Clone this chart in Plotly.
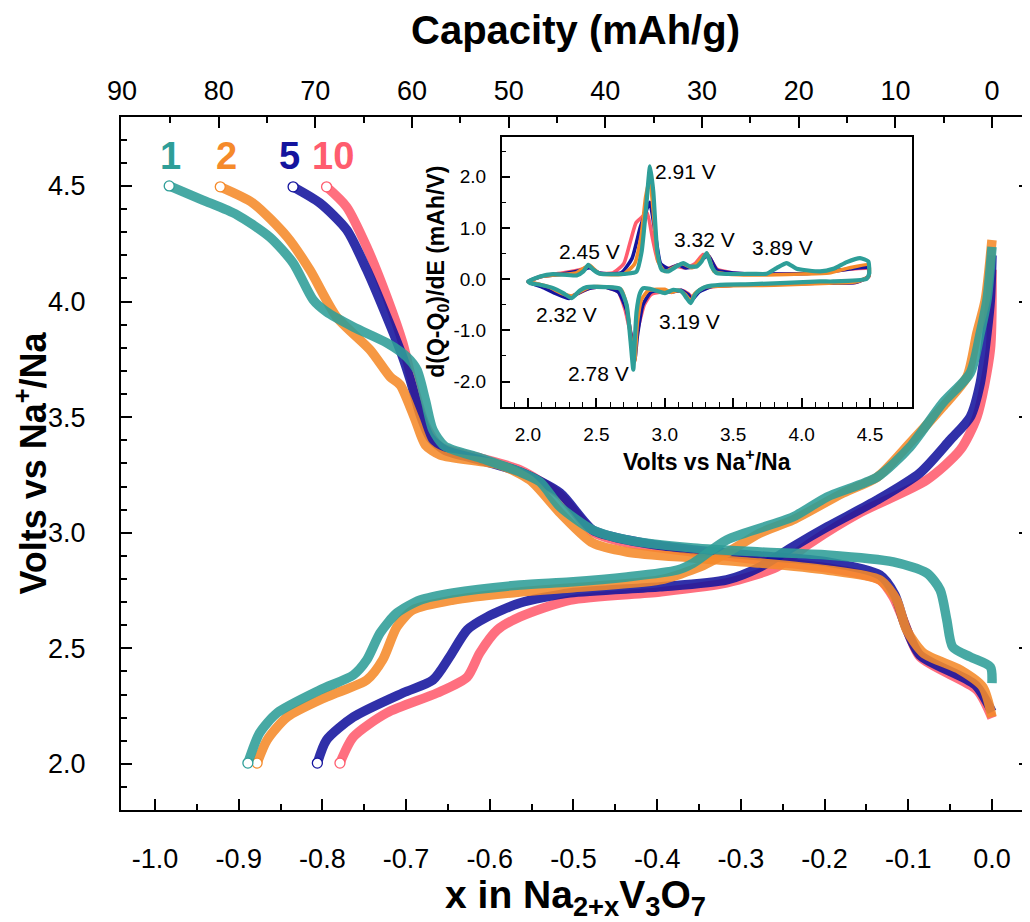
import plotly.graph_objects as go

# ---------------- main panel data: x in Na(2+x)V3O7 vs Volts ----------------
# branch A: from the high-voltage end (upper left) down to x = 0
# branch B: from 2.0 V (lower left) up to x = 0
c1_xa = [-0.983, -0.943, -0.902, -0.863, -0.835, -0.811, -0.795, -0.763, -0.723, -0.699, -0.687, -0.677, -0.668, -0.654, -0.612, -0.564, -0.540, -0.516, -0.477, -0.436, -0.357, -0.277, -0.197, -0.118, -0.078, -0.062, -0.054, -0.047, -0.026, -0.002, 0.0]
c1_va = [4.500, 4.439, 4.375, 4.279, 4.167, 4.007, 3.955, 3.890, 3.821, 3.760, 3.704, 3.574, 3.445, 3.375, 3.324, 3.263, 3.220, 3.112, 3.012, 2.969, 2.934, 2.917, 2.904, 2.874, 2.826, 2.753, 2.623, 2.506, 2.463, 2.420, 2.350]
c1_xb = [-0.889, -0.875, -0.854, -0.803, -0.763, -0.747, -0.731, -0.711, -0.683, -0.644, -0.564, -0.504, -0.436, -0.376, -0.357, -0.317, -0.238, -0.197, -0.137, -0.098, -0.059, -0.026, -0.014, -0.006, 0.0]
c1_vb = [2.004, 2.134, 2.221, 2.320, 2.385, 2.450, 2.567, 2.653, 2.709, 2.740, 2.774, 2.787, 2.809, 2.839, 2.869, 2.969, 3.068, 3.155, 3.241, 3.371, 3.561, 3.691, 3.864, 4.007, 4.236]

c2_xa = [-0.922, -0.883, -0.842, -0.815, -0.783, -0.743, -0.719, -0.707, -0.689, -0.677, -0.659, -0.588, -0.552, -0.516, -0.477, -0.436, -0.357, -0.277, -0.197, -0.134, -0.114, -0.102, -0.082, -0.038, -0.011, 0.0]
c2_va = [4.496, 4.426, 4.279, 4.137, 3.933, 3.791, 3.674, 3.639, 3.488, 3.380, 3.336, 3.293, 3.228, 3.086, 2.956, 2.917, 2.891, 2.869, 2.839, 2.796, 2.709, 2.580, 2.480, 2.407, 2.333, 2.203]
c2_xb = [-0.878, -0.866, -0.842, -0.795, -0.747, -0.728, -0.711, -0.692, -0.644, -0.564, -0.504, -0.397, -0.349, -0.317, -0.277, -0.238, -0.178, -0.137, -0.098, -0.059, -0.030, -0.018, -0.008, 0.0]
c2_vb = [2.004, 2.104, 2.203, 2.290, 2.363, 2.450, 2.593, 2.666, 2.709, 2.744, 2.761, 2.796, 2.852, 2.913, 2.999, 3.055, 3.172, 3.241, 3.388, 3.544, 3.674, 3.864, 4.007, 4.266]

c5_xa = [-0.835, -0.803, -0.771, -0.747, -0.723, -0.704, -0.695, -0.683, -0.671, -0.654, -0.612, -0.564, -0.516, -0.477, -0.436, -0.357, -0.277, -0.197, -0.134, -0.116, -0.104, -0.086, -0.020, 0.0]
c5_va = [4.496, 4.426, 4.310, 4.137, 3.933, 3.760, 3.661, 3.510, 3.410, 3.358, 3.315, 3.263, 3.172, 3.012, 2.969, 2.926, 2.900, 2.874, 2.817, 2.731, 2.601, 2.471, 2.342, 2.225]
c5_xb = [-0.806, -0.795, -0.763, -0.704, -0.668, -0.648, -0.627, -0.603, -0.564, -0.504, -0.397, -0.317, -0.277, -0.238, -0.197, -0.137, -0.086, -0.050, -0.026, -0.014, -0.006, -0.002, 0.0]
c5_vb = [2.004, 2.104, 2.203, 2.307, 2.363, 2.463, 2.580, 2.636, 2.696, 2.740, 2.766, 2.796, 2.852, 2.939, 3.025, 3.142, 3.259, 3.401, 3.501, 3.648, 3.864, 4.007, 4.200]

c10_xa = [-0.795, -0.771, -0.747, -0.723, -0.704, -0.693, -0.677, -0.659, -0.612, -0.564, -0.516, -0.477, -0.436, -0.357, -0.277, -0.197, -0.134, -0.118, -0.106, -0.086, -0.018, 0.0]
c10_va = [4.496, 4.409, 4.236, 4.020, 3.821, 3.661, 3.466, 3.371, 3.324, 3.272, 3.163, 3.003, 2.956, 2.917, 2.882, 2.848, 2.796, 2.722, 2.623, 2.463, 2.320, 2.199]
c10_xb = [-0.779, -0.763, -0.723, -0.663, -0.627, -0.612, -0.591, -0.564, -0.504, -0.397, -0.317, -0.257, -0.217, -0.158, -0.078, -0.038, -0.018, -0.002, 0.0]
c10_vb = [2.004, 2.117, 2.221, 2.307, 2.376, 2.480, 2.580, 2.636, 2.709, 2.744, 2.783, 2.852, 2.956, 3.086, 3.228, 3.358, 3.501, 3.791, 4.137]

# ---------------- inset data: d(Q-Q0)/dE vs Volts ----------------
i1_vu = [2.002, 2.088, 2.185, 2.356, 2.405, 2.441, 2.478, 2.526, 2.721, 2.794, 2.831, 2.863, 2.892, 2.916, 2.945, 2.977, 3.025, 3.086, 3.135, 3.184, 3.233, 3.269, 3.306, 3.342, 3.379, 3.647, 3.744, 3.817, 3.891, 3.964, 4.135, 4.232, 4.330, 4.427, 4.488, 4.495]
i1_yu = [-0.046, 0.052, 0.098, 0.072, 0.150, 0.280, 0.182, 0.104, 0.104, 0.150, 0.540, 1.385, 2.199, 1.707, 0.540, 0.182, 0.150, 0.247, 0.312, 0.247, 0.247, 0.345, 0.507, 0.247, 0.117, 0.104, 0.104, 0.215, 0.312, 0.202, 0.150, 0.202, 0.332, 0.410, 0.345, 0.117]
i1_vl = [4.495, 4.476, 4.232, 4.135, 3.647, 3.404, 3.306, 3.257, 3.221, 3.189, 3.160, 3.123, 3.062, 3.001, 2.940, 2.892, 2.843, 2.819, 2.794, 2.782, 2.770, 2.750, 2.721, 2.672, 2.575, 2.429, 2.380, 2.319, 2.258, 2.185, 2.088, 2.015, 2.002]
i1_yl = [0.117, 0.007, -0.046, -0.046, -0.098, -0.111, -0.143, -0.208, -0.306, -0.468, -0.371, -0.241, -0.208, -0.273, -0.228, -0.189, -0.176, -0.273, -0.631, -1.151, -1.769, -1.216, -0.501, -0.189, -0.156, -0.156, -0.221, -0.371, -0.273, -0.176, -0.111, -0.078, -0.046]

i2_vu = [2.00, 2.10, 2.20, 2.35, 2.45, 2.52, 2.70, 2.78, 2.83, 2.86, 2.89, 2.92, 2.95, 3.00, 3.08, 3.13, 3.20, 3.25, 3.31, 3.36, 3.45, 3.70, 4.00, 4.20, 4.35, 4.49]
i2_yu = [-0.05, 0.05, 0.08, 0.12, 0.27, 0.11, 0.10, 0.30, 0.90, 1.60, 1.95, 1.20, 0.35, 0.15, 0.25, 0.30, 0.22, 0.35, 0.50, 0.15, 0.10, 0.08, 0.10, 0.12, 0.22, 0.28]
i2_vl = [4.49, 4.40, 4.20, 4.00, 3.80, 3.50, 3.30, 3.22, 3.19, 3.15, 3.10, 3.05, 3.00, 2.95, 2.88, 2.83, 2.80, 2.78, 2.76, 2.72, 2.68, 2.55, 2.45, 2.38, 2.32, 2.25, 2.15, 2.05, 2.00]
i2_yl = [0.05, -0.05, -0.08, -0.10, -0.12, -0.13, -0.15, -0.28, -0.42, -0.30, -0.22, -0.26, -0.20, -0.20, -0.22, -0.40, -0.85, -1.60, -1.30, -0.50, -0.20, -0.15, -0.16, -0.25, -0.33, -0.28, -0.15, -0.08, -0.05]

i5_vu = [2.00, 2.10, 2.25, 2.40, 2.45, 2.52, 2.68, 2.76, 2.82, 2.86, 2.89, 2.93, 2.97, 3.03, 3.10, 3.15, 3.22, 3.28, 3.32, 3.38, 3.50, 3.80, 4.10, 4.30, 4.49]
i5_yu = [-0.05, 0.05, 0.10, 0.18, 0.22, 0.12, 0.12, 0.40, 1.00, 1.30, 1.50, 0.90, 0.30, 0.20, 0.28, 0.22, 0.25, 0.40, 0.45, 0.18, 0.12, 0.10, 0.12, 0.18, 0.22]
i5_vl = [4.49, 4.40, 4.10, 3.80, 3.50, 3.35, 3.25, 3.20, 3.17, 3.12, 3.05, 2.98, 2.90, 2.84, 2.80, 2.78, 2.76, 2.72, 2.66, 2.55, 2.45, 2.35, 2.30, 2.20, 2.10, 2.00]
i5_yl = [0.05, -0.06, -0.08, -0.10, -0.12, -0.14, -0.25, -0.40, -0.30, -0.22, -0.25, -0.22, -0.25, -0.50, -1.10, -1.60, -1.20, -0.60, -0.25, -0.15, -0.18, -0.30, -0.38, -0.28, -0.15, -0.05]

i10_vu = [2.00, 2.10, 2.25, 2.40, 2.45, 2.52, 2.62, 2.70, 2.75, 2.79, 2.83, 2.87, 2.91, 2.95, 3.00, 3.08, 3.15, 3.22, 3.28, 3.32, 3.38, 3.50, 3.80, 4.10, 4.30, 4.49]
i10_yu = [-0.05, 0.06, 0.12, 0.20, 0.25, 0.12, 0.12, 0.30, 0.75, 1.10, 1.20, 1.30, 0.80, 0.35, 0.20, 0.25, 0.22, 0.30, 0.48, 0.45, 0.20, 0.12, 0.10, 0.12, 0.18, 0.20]
i10_vl = [4.49, 4.40, 4.10, 3.80, 3.50, 3.35, 3.25, 3.20, 3.17, 3.12, 3.05, 2.98, 2.90, 2.85, 2.81, 2.78, 2.75, 2.71, 2.66, 2.55, 2.45, 2.35, 2.30, 2.20, 2.10, 2.00]
i10_yl = [0.05, -0.06, -0.08, -0.10, -0.12, -0.15, -0.22, -0.35, -0.28, -0.22, -0.25, -0.25, -0.30, -0.50, -0.90, -1.20, -1.05, -0.60, -0.25, -0.15, -0.18, -0.30, -0.35, -0.25, -0.12, -0.05]

# peak labels in the inset
peak_labels = ["2.91 V", "2.45 V", "3.32 V", "3.89 V", "2.32 V", "3.19 V", "2.78 V"]
peak_lab_v = [3.155, 2.453, 3.294, 3.857, 2.285, 3.184, 2.512]
peak_lab_y = [2.10, 0.54, 0.77, 0.61, -0.70, -0.83, -1.835]

# cycle labels
cycle_names = ["1", "2", "5", "10"]
cycle_lab_x = [-0.982, -0.914, -0.839, -0.787]
cycle_lab_v = [4.63, 4.63, 4.63, 4.63]

# tick labels
x_ticks = [-1.0, -0.9, -0.8, -0.7, -0.6, -0.5, -0.4, -0.3, -0.2, -0.1, 0.0]
x_ticktext = ["-1.0", "-0.9", "-0.8", "-0.7", "-0.6", "-0.5", "-0.4", "-0.3", "-0.2", "-0.1", "0.0"]
inset_y_ticks = [-2.0, -1.0, 0.0, 1.0, 2.0]
inset_y_ticktext = ["-2.0", "-1.0", "0.0", "1.0", "2.0"]

colors = {"1": "#2E9E98", "2": "#F58A2A", "5": "#14149E", "10": "#FF5C6E"}

main = {
    "10": (c10_xa, c10_va, c10_xb, c10_vb),
    "5": (c5_xa, c5_va, c5_xb, c5_vb),
    "2": (c2_xa, c2_va, c2_xb, c2_vb),
    "1": (c1_xa, c1_va, c1_xb, c1_vb),
}
inset = {
    "10": (i10_vu, i10_yu, i10_vl, i10_yl),
    "5": (i5_vu, i5_yu, i5_vl, i5_yl),
    "2": (i2_vu, i2_yu, i2_vl, i2_yl),
    "1": (i1_vu, i1_yu, i1_vl, i1_yl),
}

FONT = "Liberation Sans, Arial, Helvetica, sans-serif"
fig = go.Figure()

for name, (xa, va, xb, vb) in main.items():
    col = colors[name]
    for xs, vs in ((xa, va), (xb, vb)):
        fig.add_trace(go.Scatter(
            x=xs, y=vs, mode="lines", xaxis="x", yaxis="y",
            line=dict(color=col, width=9.5, shape="spline", smoothing=0.7),
            opacity=0.88, showlegend=False, hoverinfo="skip"))
    fig.add_trace(go.Scatter(
        x=[xa[0], xb[0]], y=[va[0], vb[0]], mode="markers", xaxis="x", yaxis="y",
        marker=dict(symbol="circle", size=10, color="white", line=dict(color=col, width=1.3)),
        showlegend=False, hoverinfo="skip"))

# invisible trace to carry the top (capacity) axis
fig.add_trace(go.Scatter(x=[0], y=[3.0], xaxis="x2", yaxis="y", mode="markers",
                         marker=dict(opacity=0), showlegend=False, hoverinfo="skip"))

for name, (vu, yu, vl, yl) in inset.items():
    col = colors[name]
    w = 4.2 if name == "1" else 3.6
    fig.add_trace(go.Scatter(x=vu + vl, y=yu + yl, mode="lines", xaxis="x3", yaxis="y3",
                             line=dict(color=col, width=w, shape="spline", smoothing=0.5),
                             showlegend=False, hoverinfo="skip"))

annotations = []
for t, vx, vy in zip(peak_labels, peak_lab_v, peak_lab_y):
    annotations.append(dict(text=t, x=vx, y=vy, xref="x3", yref="y3", showarrow=False,
                            font=dict(size=21, color="black", family=FONT)))
for t, cx, cv in zip(cycle_names, cycle_lab_x, cycle_lab_v):
    annotations.append(dict(text="<b>%s</b>" % t, x=cx, y=cv, xref="x", yref="y", showarrow=False,
                            font=dict(size=38, color=colors[t], family=FONT)))

axis_common = dict(showline=True, linecolor="black", showgrid=False, zeroline=False,
                   ticks="inside", tickcolor="black", automargin=False)

# the page body adds an 8 px offset; the figure is sized so the frame lands where the reference has it
fig.update_layout(
    width=1022, height=914,
    margin=dict(l=113, r=0, t=109, b=112, autoexpand=False),
    paper_bgcolor="white", plot_bgcolor="white",
    font=dict(family=FONT, color="black"),
    showlegend=False,
    xaxis=dict(axis_common, domain=[0, 1], anchor="y", range=[-1.0406, 0.0454],
               linewidth=2, ticklen=11, tickwidth=2,
               tickvals=x_ticks, ticktext=x_ticktext,
               minor=dict(ticks="inside", ticklen=6, tickwidth=1.5, dtick=0.05, tick0=0, tickcolor="black"),
               tickfont=dict(size=27), ticklabelstandoff=24,
               title=dict(text="<b>x in Na<sub>2+x</sub>V<sub>3</sub>O<sub>7</sub></b>",
                          font=dict(size=39), standoff=4)),
    xaxis2=dict(axis_common, overlaying="x", side="top", anchor="y", range=[90.1, -3.92],
                linewidth=2, ticklen=11, tickwidth=2, dtick=10, tick0=0,
                minor=dict(ticks="inside", ticklen=6, tickwidth=1.5, dtick=5, tick0=0, tickcolor="black"),
                tickfont=dict(size=27), ticklabelstandoff=4,
                title=dict(text="<b>Capacity (mAh/g)</b>", font=dict(size=40), standoff=24)),
    yaxis=dict(axis_common, domain=[0, 1], anchor="x", range=[1.801, 4.798], mirror="ticks",
               linewidth=2, ticklen=11, tickwidth=2, dtick=0.5, tick0=0, tickformat=".1f",
               minor=dict(ticks="inside", ticklen=6, tickwidth=1.5, dtick=0.1, tick0=0, tickcolor="black"),
               tickfont=dict(size=27), ticklabelstandoff=28,
               title=dict(text="<b>Volts vs Na<sup>+</sup>/Na</b>", font=dict(size=36), standoff=0)),
    xaxis3=dict(axis_common, domain=[0.4188, 0.8699], anchor="y3", range=[1.808, 4.805], mirror=True,
                linewidth=1.5, ticklen=9, tickwidth=1.5, dtick=0.5, tick0=0, tickformat=".1f",
                minor=dict(ticks="inside", ticklen=5, tickwidth=1.2, dtick=0.1, tick0=0, tickcolor="black"),
                tickfont=dict(size=19), ticklabelstandoff=10,
                title=dict(text="<b>Volts vs Na<sup>+</sup>/Na</b>", font=dict(size=23), standoff=4)),
    yaxis3=dict(axis_common, domain=[0.582, 0.9716], anchor="x3", range=[-2.49, 2.78], mirror=True,
                linewidth=1.5, ticklen=9, tickwidth=1.5,
                tickvals=inset_y_ticks, ticktext=inset_y_ticktext,
                minor=dict(ticks="inside", ticklen=5, tickwidth=1.2, dtick=0.5, tick0=0, tickcolor="black"),
                tickfont=dict(size=19), ticklabelstandoff=10,
                title=dict(text="<b>d(Q-Q<sub>0</sub>)/dE (mAh/V)</b>", font=dict(size=23), standoff=2)),
    annotations=annotations,
)

fig.write_html("out.html")
